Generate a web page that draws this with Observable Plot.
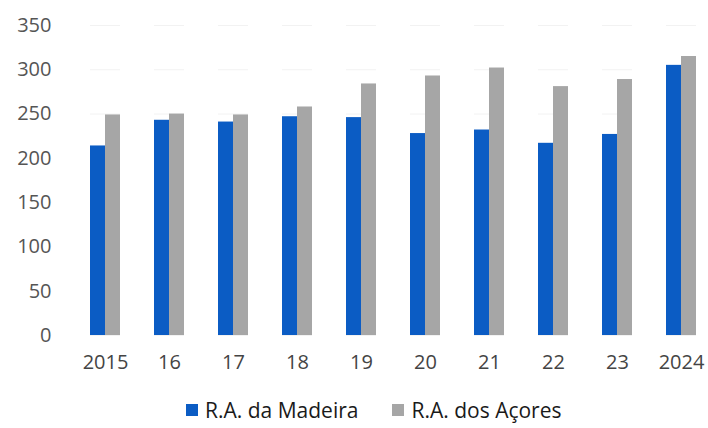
<!DOCTYPE html>
<html>
<head>
<meta charset="utf-8">
<script src="https://cdn.jsdelivr.net/npm/d3@7"></script>
<script src="https://cdn.jsdelivr.net/npm/@observablehq/plot@0.6"></script>
<style>
  body { margin: 0; background: #fff; font-family: "Open Sans", sans-serif; }
  #chart { width: 708px; }
  .legend { display: flex; align-items: center; padding-left: 186px; height: 36px; font-size: 21px; color: #1a1a1a; }
  .legend .item { display: flex; align-items: center; margin-right: 34px; }
  .legend .sw { width: 12px; height: 12px; margin-right: 7px; display: inline-block; }
</style>
</head>
<body>
<div id="chart"></div>
<script>
const years = ["2015", "16", "17", "18", "19", "20", "21", "22", "23", "2024"];
const seriesNames = ["R.A. da Madeira", "R.A. dos Açores"];
const madeira = [214, 243, 241, 247, 246, 228, 232, 217, 227, 305];
const acores = [249, 250, 249, 258, 284, 293, 302, 281, 289, 315];
const colors = ["#0b5cc4", "#a6a6a6"];
const yTicks = [0, 50, 100, 150, 200, 250, 300, 350];

const data = years.flatMap((y, i) => [
  {year: y, series: seriesNames[0], value: madeira[i]},
  {year: y, series: seriesNames[1], value: acores[i]}
]);

const chart = Plot.plot({
  width: 708,
  height: 392,
  marginTop: 25,
  marginBottom: 57,
  marginLeft: 88,
  marginRight: 10,
  style: {fontFamily: "Open Sans, sans-serif", fontSize: "20px", color: "#555"},
  fx: {domain: years, paddingInner: 0.534, paddingOuter: 0, label: null},
  x: {domain: seriesNames, padding: 0, axis: null},
  y: {domain: [0, 350], label: null},
  color: {domain: seriesNames, range: colors},
  marks: [
    Plot.gridY(yTicks, {stroke: "#f2f2f2", strokeOpacity: 1}),
    Plot.axisY({ticks: yTicks, tickSize: 0, tickPadding: 39, fill: "#555", fontSize: 20, label: null}),
    Plot.axisFx({anchor: "bottom", tickSize: 0, tickPadding: 19, fill: "#444", fontSize: 20, label: null}),
    Plot.barY(data, {fx: "year", x: "series", y: "value", fill: "series"})
  ]
});
document.getElementById("chart").appendChild(chart);

const legend = document.createElement("div");
legend.className = "legend";
seriesNames.forEach((n, i) => {
  const item = document.createElement("span");
  item.className = "item";
  const sw = document.createElement("span");
  sw.className = "sw";
  sw.style.background = colors[i];
  item.appendChild(sw);
  item.appendChild(document.createTextNode(n));
  legend.appendChild(item);
});
document.getElementById("chart").appendChild(legend);
</script>
</body>
</html>
